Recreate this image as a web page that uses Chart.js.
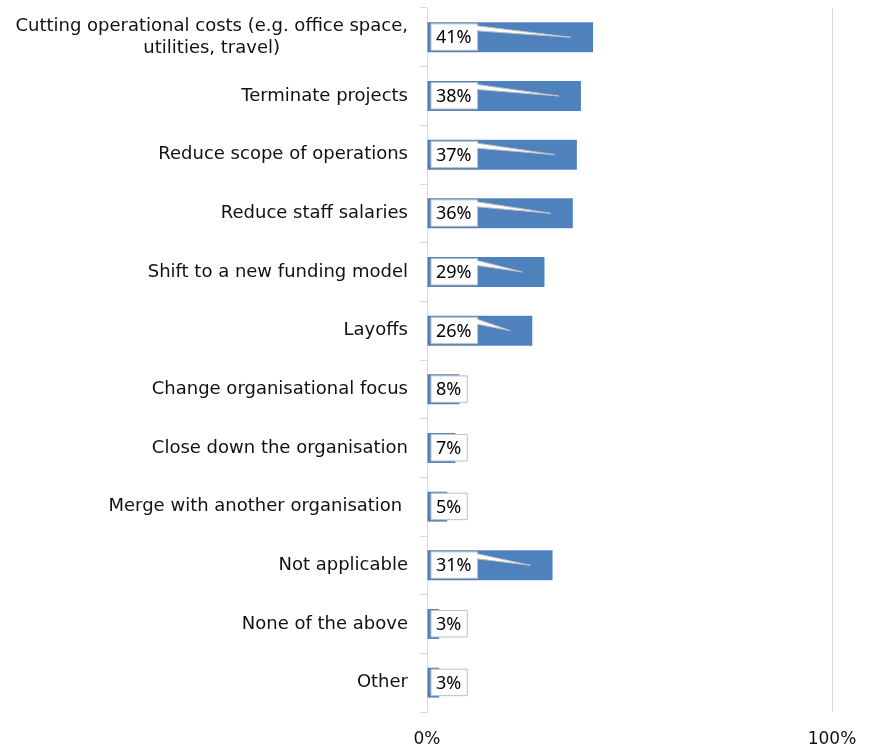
<!DOCTYPE html>
<html>
<head>
<meta charset="utf-8">
<script src="https://cdn.jsdelivr.net/npm/chart.js@4/dist/chart.umd.min.js"></script>
<style>
  html, body { margin: 0; padding: 0; background: #ffffff; }
  #wrap { width: 869px; height: 747px; }
</style>
</head>
<body>
<div id="wrap"><canvas id="chart" width="869" height="747"></canvas></div>
<script>
// Responses: actions taken by organisations (share of respondents)
const categories = [
  ['Cutting operational costs (e.g. office space,', 'utilities, travel)'],
  'Terminate projects',
  'Reduce scope of operations',
  'Reduce staff salaries',
  'Shift to a new funding model',
  'Layoffs',
  'Change organisational focus',
  'Close down the organisation',
  'Merge with another organisation ',
  'Not applicable',
  'None of the above',
  'Other'
];
const shares = [41, 38, 37, 36, 29, 26, 8, 7, 5, 31, 3, 3];
const axisTicks = [0, 100];

const LABEL_FONT = '"DejaVu Sans", "Noto Sans", sans-serif';
const VALUE_FONT = '"Noto Sans", "DejaVu Sans", sans-serif';
const BAR_BLUE = '#4f81bd';
const GRID_GREY = '#d9d9d9';

// Category labels: each label right-aligned to the axis, extra lines centred under the first
const categoryLabels = {
  id: 'categoryLabels',
  afterDraw(chart) {
    const y = chart.scales.y;
    const ctx = chart.ctx;
    ctx.save();
    ctx.font = '18px ' + LABEL_FONT;
    ctx.fillStyle = '#111111';
    ctx.textBaseline = 'middle';
    ctx.textAlign = 'center';
    const rightEdge = chart.chartArea.left - 19;
    const lineH = 22;
    categories.forEach((lab, i) => {
      const lines = Array.isArray(lab) ? lab : [lab];
      const w = Math.max(...lines.map(l => ctx.measureText(l).width));
      const cx = rightEdge - w / 2;
      const cy = y.getPixelForValue(i);
      const start = cy - (lines.length - 1) * lineH / 2;
      lines.forEach((l, k) => ctx.fillText(l, cx, start + k * lineH));
    });
    ctx.restore();
  }
};

// Value callouts: a white box at the start of each bar with a pointer to the bar end
const valueCallouts = {
  id: 'valueCallouts',
  afterDatasetsDraw(chart) {
    const meta = chart.getDatasetMeta(0);
    const ctx = chart.ctx;
    const x0 = chart.scales.x.getPixelForValue(0);
    ctx.save();
    ctx.font = '18px ' + VALUE_FONT;
    ctx.textBaseline = 'middle';
    ctx.textAlign = 'left';
    meta.data.forEach((bar, i) => {
      const txt = shares[i] + '%';
      const tw = ctx.measureText(txt).width;
      const top = bar.y - bar.height / 2 + 1.5;
      const bottom = bar.y + bar.height / 2 - 2;
      const L = x0 + 4;
      const R = L + tw + 11;
      const tipX = bar.x - 22;
      ctx.beginPath();
      ctx.moveTo(L, top);
      ctx.lineTo(R, top);
      if (tipX > R + 4) {
        ctx.lineTo(R, top + 2);
        ctx.lineTo(tipX, bar.y);
        ctx.lineTo(R, top + 7);
      }
      ctx.lineTo(R, bottom);
      ctx.lineTo(L, bottom);
      ctx.closePath();
      ctx.fillStyle = '#ffffff';
      ctx.fill();
      ctx.lineWidth = 1;
      ctx.strokeStyle = '#bfbfbf';
      ctx.stroke();
      ctx.fillStyle = '#000000';
      ctx.fillText(txt, L + 5, (top + bottom) / 2 + 1);
    });
    ctx.restore();
  }
};

new Chart(document.getElementById('chart'), {
  type: 'bar',
  data: {
    labels: categories,
    datasets: [{
      data: shares,
      backgroundColor: BAR_BLUE,
      borderWidth: 0,
      barPercentage: 0.51,
      categoryPercentage: 1
    }]
  },
  options: {
    indexAxis: 'y',
    responsive: false,
    animation: false,
    layout: { padding: { top: 8, right: 37, bottom: 0, left: 0 } },
    plugins: {
      legend: { display: false },
      tooltip: { enabled: false }
    },
    scales: {
      x: {
        min: axisTicks[0],
        max: axisTicks[axisTicks.length - 1],
        afterBuildTicks(scale) { scale.ticks = axisTicks.map(v => ({ value: v })); },
        afterFit(scale) {
          scale.height = 35;
          scale.paddingLeft = 0;
          scale.paddingRight = 0;
        },
        grid: { color: GRID_GREY, drawTicks: false, lineWidth: 1 },
        border: { display: false },
        ticks: {
          padding: 17,
          color: '#111111',
          font: { family: LABEL_FONT, size: 17 },
          callback: v => v + '%'
        }
      },
      y: {
        afterFit(scale) { scale.width = 427; },
        grid: {
          drawOnChartArea: false,
          drawTicks: true,
          tickLength: 7,
          color: GRID_GREY,
          offset: true
        },
        border: { display: true, color: GRID_GREY },
        ticks: { display: false }
      }
    }
  },
  plugins: [categoryLabels, valueCallouts]
});
</script>
</body>
</html>
